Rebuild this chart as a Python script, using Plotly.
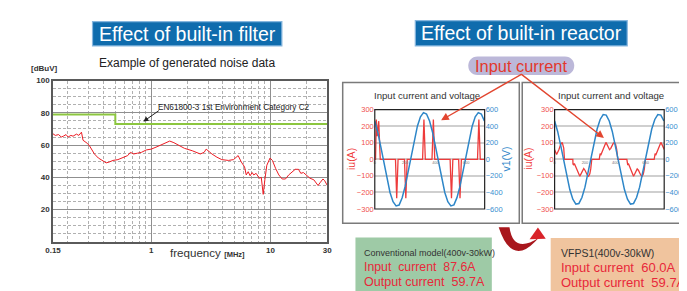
import math
import plotly.graph_objects as go

W, H = 687, 291

# ---------------- data ----------------
noise_freq_mhz = [0.150, 0.157, 0.167, 0.176, 0.183, 0.193, 0.201, 0.212, 0.221, 0.236,
                  0.247, 0.260, 0.268, 0.280, 0.292, 0.304, 0.324, 0.334, 0.360, 0.389,
                  0.419, 0.444, 0.478, 0.526, 0.589, 0.635, 0.669, 0.712, 0.768, 0.828,
                  0.910, 1.00, 1.12, 1.26, 1.43, 1.55, 1.70, 1.90, 2.21, 2.58,
                  2.78, 2.89, 3.06, 3.23, 3.56, 3.91, 4.44, 4.90, 5.36, 5.70,
                  6.07, 6.27, 6.51, 6.76, 7.02, 7.25, 7.58, 8.07, 8.38, 8.70,
                  8.98, 9.33, 9.93, 10.39, 11.06, 11.77, 12.55, 13.37, 14.23, 15.17,
                  16.14, 17.19, 17.99, 18.90, 20.16, 21.45, 23.13, 25.09, 26.27, 27.59,
                  28.49, 29.42, 30.0]
noise_dbuv = [67, 66, 66.5, 65, 65.5, 66.5, 65, 66, 65.5, 66.8,
              66, 68, 63, 62, 61, 59.5, 55.5, 54.5, 52, 50.5,
              49, 49.5, 50.5, 51, 52.5, 53.5, 55.5, 54.5, 55, 55.5,
              57, 57.5, 59, 60.5, 62.5, 61.5, 60, 58, 56.5, 54.5,
              55.5, 57.5, 56, 54.5, 52.5, 51, 50.5, 51, 53.5, 49.5,
              46.5, 41.5, 43.5, 41, 43, 41.5, 42.5, 39.5, 40, 29.5,
              38.5, 47.5, 52, 50.5, 45.5, 41.5, 39, 39, 41.5, 43.5,
              45, 45, 42.5, 43, 41, 39.5, 38.5, 35, 37, 39,
              38, 35.5, 35]
limit_freq_mhz = [0.15, 0.5, 0.5, 30]
limit_dbuv = [79, 79, 73, 73]

noise_y_ticks = [20, 40, 60, 80, 100]
noise_x_ticks = [0.15, 1, 10, 30]
noise_x_ticktext = ["0.15", "1", "10", "30"]
noise_x_minor = [0.2, 0.3, 0.4, 0.5, 0.6, 0.7, 0.8, 0.9, 2, 3, 4, 5, 6, 7, 8, 9, 20]

conv_time = [0, 5, 10, 16, 26, 36, 136, 144, 153, 195, 204, 213, 314, 323, 332,
             376, 385, 394, 495, 504, 513, 551, 560, 569, 675, 684, 693, 722]
conv_current_a = [0, 0, 240, 140, 230, 0, 0, -235, 0, 0, -235, 0, 0, 240, 0,
                  0, 240, 0, 0, -235, 0, 0, -235, 0, 0, 240, 0, 0]

volt_time = [0, 20, 40, 60, 80, 100, 120, 140, 160, 180, 200, 220, 240, 260, 280, 300, 320, 340, 360,
             380, 400, 420, 440, 460, 480, 500, 520, 540, 560, 580, 600, 620, 640, 660, 680, 700, 720]
conv_voltage_v = [463, 324, 146, -49, -239, -400, -512, -563, -552, -463, -324, -146, 49, 239, 400, 512, 563, 546, 463,
                  324, 146, -49, -239, -400, -512, -563, -550, -463, -324, -146, 49, 239, 400, 512, 563, 546, 463]
vfps_voltage_v = [462, 336, 168, -19, -204, -365, -481, -540, -533, -462, -336, -168, 19, 204, 365, 481, 540, 533, 462,
                  336, 168, -19, -204, -365, -481, -540, -533, -462, -336, -168, 19, 204, 365, 481, 540, 533, 462]

vfps_time = [0, 13, 28, 39, 50, 60, 65,
             120, 121, 126, 130, 136, 142, 150, 158, 166, 174, 183, 192, 200, 208, 216, 224, 232, 238, 243, 245,
             294, 295, 300, 304, 310, 316, 324, 331, 338, 345, 354, 362, 370, 378, 386, 394, 402, 409, 414, 416,
             476, 477, 482, 486, 492, 498, 506, 513, 520, 527, 536, 544, 552, 560, 568, 576, 584, 591, 596, 598,
             656, 657, 662, 666, 672, 678, 686, 693, 700, 707, 716, 722]
vfps_current_a = [58, 29, 58, 88, 102, 68, 0,
                  0, -28, -35, -25, -40, -55, -75, -92, -102, -88, -66, -56, -66, -82, -96, -102, -88, -58, -20, 0,
                  0, 28, 35, 25, 40, 55, 75, 92, 102, 90, 68, 58, 66, 82, 96, 102, 90, 60, 20, 0,
                  0, -28, -35, -25, -40, -55, -75, -92, -102, -90, -68, -58, -66, -82, -96, -102, -90, -60, -20, 0,
                  0, 28, 35, 25, 40, 55, 75, 92, 102, 90, 68, 60]

wave_t_ticks = [0, 200, 400, 600]
current_ticks = [-300, -200, -100, 0, 100, 200, 300]
voltage_ticks = [-600, -400, -200, 0, 200, 400, 600]

# ---------------- helpers ----------------
FONT = "Liberation Sans, Arial, sans-serif"
WRED = "#ee3b3b"
BLUE = "#2d86c8"


def X(p):
    return p / W


def Y(p):
    return 1 - p / H


def path(points_cmds):
    out = []
    for cmd, pts in points_cmds:
        coords = " ".join(f"{X(a):.5f},{Y(b):.5f}" for a, b in pts)
        out.append(f"{cmd} {coords}")
    return " ".join(out) + " Z"


fig = go.Figure()

# ---------------- noise chart ----------------
fig.add_trace(go.Scatter(x=limit_freq_mhz, y=limit_dbuv, mode="lines",
                         line=dict(color="#8cc63f", width=2), xaxis="x", yaxis="y",
                         showlegend=False, hoverinfo="skip"))
fig.add_trace(go.Scatter(x=noise_freq_mhz, y=noise_dbuv, mode="lines",
                         line=dict(color="#ec1c24", width=1), xaxis="x", yaxis="y",
                         showlegend=False))

# ---------------- waveform panels ----------------
fig.add_trace(go.Scatter(x=volt_time, y=conv_voltage_v, mode="lines",
                         line=dict(color=BLUE, width=1.5), xaxis="x2", yaxis="y3", showlegend=False))
fig.add_trace(go.Scatter(x=conv_time, y=conv_current_a, mode="lines",
                         line=dict(color=WRED, width=1.3), xaxis="x2", yaxis="y2", showlegend=False))
fig.add_trace(go.Scatter(x=volt_time, y=vfps_voltage_v, mode="lines",
                         line=dict(color=BLUE, width=1.5), xaxis="x3", yaxis="y5", showlegend=False))
fig.add_trace(go.Scatter(x=vfps_time, y=vfps_current_a, mode="lines",
                         line=dict(color=WRED, width=1.3), xaxis="x3", yaxis="y4", showlegend=False))

wave_top, wave_bot = 100.7, 203.3
wave_zero = (wave_top + wave_bot) / 2
p1_l, p1_r = 365.7, 477.7
p2_l, p2_r = 549.0, 660.7

tickfont_bold = dict(family=FONT, size=8, color="#333333", weight="bold")

layout = dict(
    width=W, height=H, autosize=False,
    margin=dict(l=0, r=0, t=0, b=0),
    paper_bgcolor="white", plot_bgcolor="white",
    showlegend=False,
    xaxis=dict(type="log", domain=[X(37.7), X(317.3)],
               range=[math.log10(0.15), math.log10(30)],
               tickmode="array", tickvals=noise_x_ticks, ticktext=noise_x_ticktext,
               showgrid=True, gridcolor="#8f8f8f", gridwidth=1,
               minor=dict(tickmode="array", tickvals=noise_x_minor, showgrid=True,
                          gridcolor="#b0b0b0", griddash="3px,2px", gridwidth=1, ticks=""),
               showline=True, mirror=True, linecolor="#5a5a5a", linewidth=1.5,
               ticks="", tickfont=tickfont_bold, anchor="y", zeroline=False),
    yaxis=dict(domain=[Y(237.3), Y(70.7)], range=[0, 100],
               tickmode="array", tickvals=noise_y_ticks,
               showgrid=True, gridcolor="#8f8f8f", gridwidth=1,
               minor=dict(dtick=5, tick0=0, showgrid=True, gridcolor="#b0b0b0",
                          griddash="3px,2px", gridwidth=1, ticks=""),
               showline=True, mirror=True, linecolor="#5a5a5a", linewidth=1.5,
               ticks="", tickfont=tickfont_bold, anchor="x", zeroline=False),
)

for xa, ya, yb, l, r in [("xaxis2", "yaxis2", "yaxis3", p1_l, p1_r),
                         ("xaxis3", "yaxis4", "yaxis5", p2_l, p2_r)]:
    xname = "x" + xa[5:]
    yname = "y" + ya[5:]
    layout[xa] = dict(domain=[X(l), X(r)], range=[0, 722], anchor="free", position=Y(wave_zero),
                      tickmode="array", tickvals=wave_t_ticks, showgrid=False, zeroline=False,
                      showline=False, ticks="", tickfont=dict(family=FONT, size=4, color="#777777"))
    layout[ya] = dict(domain=[Y(wave_bot), Y(wave_top)], range=[-300, 300], anchor=xname,
                      tickmode="array", tickvals=current_ticks, showgrid=True,
                      gridcolor="#cfcfcf", gridwidth=2, zeroline=False, showline=False, ticks="",
                      tickfont=dict(family=FONT, size=7.5, color="#f05050"))
    layout[yb] = dict(domain=[Y(wave_bot), Y(wave_top)], range=[-600, 600], anchor=xname,
                      overlaying=yname, side="right",
                      tickmode="array", tickvals=voltage_ticks, showgrid=False,
                      zeroline=False, showline=False, ticks="",
                      tickfont=dict(family=FONT, size=7.5, color="#3a8fd0"))

fig.update_layout(**layout)

shapes = []
# header boxes
for (x0, x1, y0, y1) in [(78, 271, 10, 35), (407, 623, 9, 35)]:
    shapes.append(dict(type="rect", xref="paper", yref="paper", x0=X(x0), x1=X(x1), y0=Y(y1), y1=Y(y0),
                       fillcolor="#0f6cad", line=dict(color="#86b6de", width=1.2)))
# pill
r = 9.5
pl, pr, pt, pb = 461, 569, 46, 65
k = 4 / 3 * r
shapes.append(dict(type="path", xref="paper", yref="paper",
                   path=path([("M", [(pl + r, pt)]), ("L", [(pr - r, pt)]),
                              ("C", [(pr - r + k, pt), (pr - r + k, pb), (pr - r, pb)]),
                              ("L", [(pl + r, pb)]),
                              ("C", [(pl + r - k, pb), (pl + r - k, pt), (pl + r, pt)])]),
                   fillcolor="#bcb8d9", line=dict(width=0)))
# panel outer frames
for (x0, x1) in [(333, 513), (516, 700)]:
    shapes.append(dict(type="rect", xref="paper", yref="paper", x0=X(x0), x1=X(x1), y0=Y(218), y1=Y(72.7),
                       line=dict(color="#7a7a7a", width=1.5), fillcolor="rgba(0,0,0,0)", layer="below"))
# plot frames
for xr, yr in [("x2", "y2"), ("x3", "y4")]:
    shapes.append(dict(type="rect", xref=f"{xr} domain", yref=f"{yr} domain", x0=0, x1=1, y0=0, y1=1,
                       line=dict(color="#222222", width=1.2)))
# bottom boxes
shapes.append(dict(type="rect", xref="paper", yref="paper", x0=X(346), x1=X(485), y0=Y(300), y1=Y(232.7),
                   fillcolor="#9ecaa6", line=dict(width=0)))
shapes.append(dict(type="rect", xref="paper", yref="paper", x0=X(545), x1=X(700), y0=Y(300), y1=Y(233.3),
                   fillcolor="#f0c49e", line=dict(width=0)))
# curved swoosh arrow
shapes.append(dict(type="path", xref="paper", yref="paper",
                   path=f"M {X(492):.5f},{Y(222):.5f} L {X(503):.5f},{Y(222):.5f} "
                        f"Q {X(507):.5f},{Y(250):.5f} {X(533):.5f},{Y(233):.5f} "
                        f"L {X(529):.5f},{Y(237):.5f} "
                        f"Q {X(505):.5f},{Y(262):.5f} {X(492):.5f},{Y(222):.5f} Z",
                   fillcolor="#a8171d", line=dict(width=0)))
shapes.append(dict(type="path", xref="paper", yref="paper",
                   path=path([("M", [(523.5, 234.5)]), ("L", [(532, 222.5)]), ("L", [(540, 234)])]),
                   fillcolor="#d9232a", line=dict(width=0)))
fig.update_layout(shapes=shapes)

ann = []


def text(xp, yp, t, size, color="#222222", family=FONT, xanchor="center", angle=0, weight="normal"):
    ann.append(dict(x=X(xp), y=Y(yp), xref="paper", yref="paper", text=t, showarrow=False,
                    xanchor=xanchor, yanchor="middle", textangle=angle,
                    font=dict(family=family, size=size, color=color, weight=weight)))


text(174.5, 22.5, "Effect of built-in filter", 19.5, "white")
text(515, 22, "Effect of built-in reactor", 19.5, "white")
text(174.5, 53, "Example of generated noise data", 12, "#222222")
text(29, 58.5, "[dBuV]", 8, "#333333", weight="bold")
text(195.5, 248.5, "frequency <span style='font-size:7.5px;font-weight:bold'>[MHz]</span>", 11.6, "#333333")
text(222, 99, "EN61800-3 1st Environment Category C2", 8.2, "#222222")
text(515, 55.5, "Input current", 16.4, "#e2382c")
# panel titles and axis titles
text(418.7, 85.7, "Input current and voltage", 9.6, "#333333")
text(606.2, 85.7, "Input current and voltage", 9.6, "#333333")
text(341.5, 151.7, "iu(A)", 10.5, "#ef3a3a", angle=-90)
text(521.5, 151.7, "iu(A)", 10.5, "#ef3a3a", angle=-90)
text(499, 151.7, "v1(V)", 10.5, "#2f86c9", angle=-90)
text(681.5, 151.7, "v1(V)", 10.5, "#2f86c9", angle=-90)
# bottom boxes text
text(352.5, 248.5, "Conventional model(400v-30kW)", 9, "#333333", xanchor="left")
text(352.5, 263.5, "Input  current  87.6A", 12.3, "#e8283a", xanchor="left")
text(352.5, 279, "Output current  59.7A", 12.6, "#e8283a", xanchor="left")
text(553, 248.5, "VFPS1(400v-30kW)", 10.5, "#333333", xanchor="left")
text(553, 263.5, "Input current  60.0A", 13, "#e8283a", xanchor="left")
text(553, 279, "Output current  59.7A", 13, "#e8283a", xanchor="left")

# arrows
ann.append(dict(x=math.log10(0.86), y=74.6, xref="x", yref="y", text="", showarrow=True,
                ax=17, ay=-12, arrowhead=2, arrowsize=1, arrowwidth=1, arrowcolor="#222222"))
for hx, hy in [(433.3, 111.7), (599.3, 130)]:
    ann.append(dict(x=X(hx), y=Y(hy), xref="paper", yref="paper", text="", showarrow=True,
                    ax=515 - hx, ay=65 - hy, arrowhead=2, arrowsize=1.1, arrowwidth=1.4,
                    arrowcolor="#e2452f"))

fig.update_layout(annotations=ann)

fig.write_html("out.html")
